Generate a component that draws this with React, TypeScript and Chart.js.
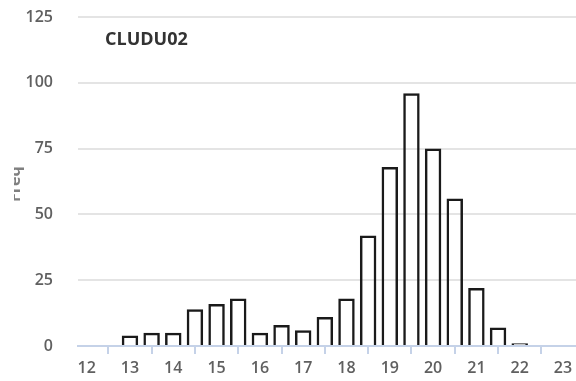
import React, { useEffect, useRef } from "react";
import { Chart, registerables } from "chart.js";

Chart.register(...registerables);

const binCenters = [13, 13.5, 14, 14.5, 15, 15.5, 16, 16.5, 17, 17.5, 18, 18.5, 19, 19.5, 20, 20.5, 21, 21.5, 22];
const freqValues = [4, 5, 5, 14, 16, 18, 5, 8, 6, 11, 18, 42, 68, 96, 75, 56, 22, 7, 1];
const xTickValues = [12, 13, 14, 15, 16, 17, 18, 19, 20, 21, 22, 23];
const yTickValues = [0, 25, 50, 75, 100, 125];
const chartTitle = "CLUDU02";
const yAxisTitle = "Freq";

const FONT = "'Open Sans', 'Noto Sans', sans-serif";

const overlayPlugin = {
  id: "overlayText",
  afterDraw(chart: any) {
    const ctx = chart.ctx;
    ctx.save();
    ctx.fillStyle = "#333333";
    ctx.font = `bold 18px ${FONT}`;
    ctx.textAlign = "left";
    ctx.textBaseline = "alphabetic";
    ctx.fillText(chartTitle, 105, 45);
    ctx.restore();

    ctx.save();
    ctx.beginPath();
    ctx.rect(14, 0, 40, chart.height);
    ctx.clip();
    ctx.translate(20, 202);
    ctx.rotate(-Math.PI / 2);
    ctx.fillStyle = "#808080";
    ctx.font = `bold 16px ${FONT}`;
    ctx.textAlign = "left";
    ctx.textBaseline = "alphabetic";
    ctx.fillText(yAxisTitle, 0, 0);
    ctx.restore();
  },
};

export default function App() {
  const canvasRef = useRef<HTMLCanvasElement | null>(null);

  useEffect(() => {
    if (!canvasRef.current) return;
    const chart = new Chart(canvasRef.current, {
      type: "bar",
      data: {
        datasets: [
          {
            data: binCenters.map((x, i) => ({ x, y: freqValues[i] })),
            backgroundColor: "rgba(255,255,255,0)",
            borderColor: "#1a1a1a",
            borderWidth: 2.5,
            barPercentage: 0.76,
            categoryPercentage: 1,
          },
        ],
      },
      options: {
        animation: false,
        responsive: false,
        maintainAspectRatio: false,
        layout: { padding: { top: 17, left: 0, right: 0, bottom: 0 } },
        plugins: {
          legend: { display: false },
          title: { display: false },
          tooltip: { enabled: false },
        },
        scales: {
          x: {
            type: "linear",
            min: 11.8,
            max: 23.3,
            offset: false,
            afterBuildTicks(scale: any) {
              scale.ticks = xTickValues.map((v) => ({ value: v }));
            },
            afterFit(scale: any) {
              scale.height = 35;
              scale.paddingLeft = 0;
              scale.paddingRight = 0;
            },
            grid: {
              drawOnChartArea: false,
              drawTicks: true,
              tickLength: 8,
              color: "#c5d2e8",
              lineWidth: 2,
            },
            border: { display: true, color: "#c5d2e8", width: 2 },
            ticks: {
              color: "#606060",
              font: { family: FONT, size: 16, weight: "600" },
              padding: 5,
              maxRotation: 0,
              autoSkip: false,
            },
          },
          y: {
            min: 0,
            max: 125,
            afterBuildTicks(scale: any) {
              scale.ticks = yTickValues.map((v) => ({ value: v }));
            },
            afterFit(scale: any) {
              scale.width = 78;
              scale.paddingTop = 0;
              scale.paddingBottom = 0;
            },
            grid: {
              drawTicks: false,
              color: "#e4e4e4",
              lineWidth: 2,
            },
            border: { display: false },
            ticks: {
              color: "#606060",
              font: { family: FONT, size: 16, weight: "600" },
              padding: 25,
            },
          },
        },
      },
      plugins: [overlayPlugin],
    });
    return () => chart.destroy();
  }, []);

  return (
    <div style={{ position: "fixed", left: 0, top: 0, width: 576, height: 381, background: "#ffffff" }}>
      <canvas ref={canvasRef} width={576} height={381} style={{ width: 576, height: 381, display: "block" }} />
    </div>
  );
}
